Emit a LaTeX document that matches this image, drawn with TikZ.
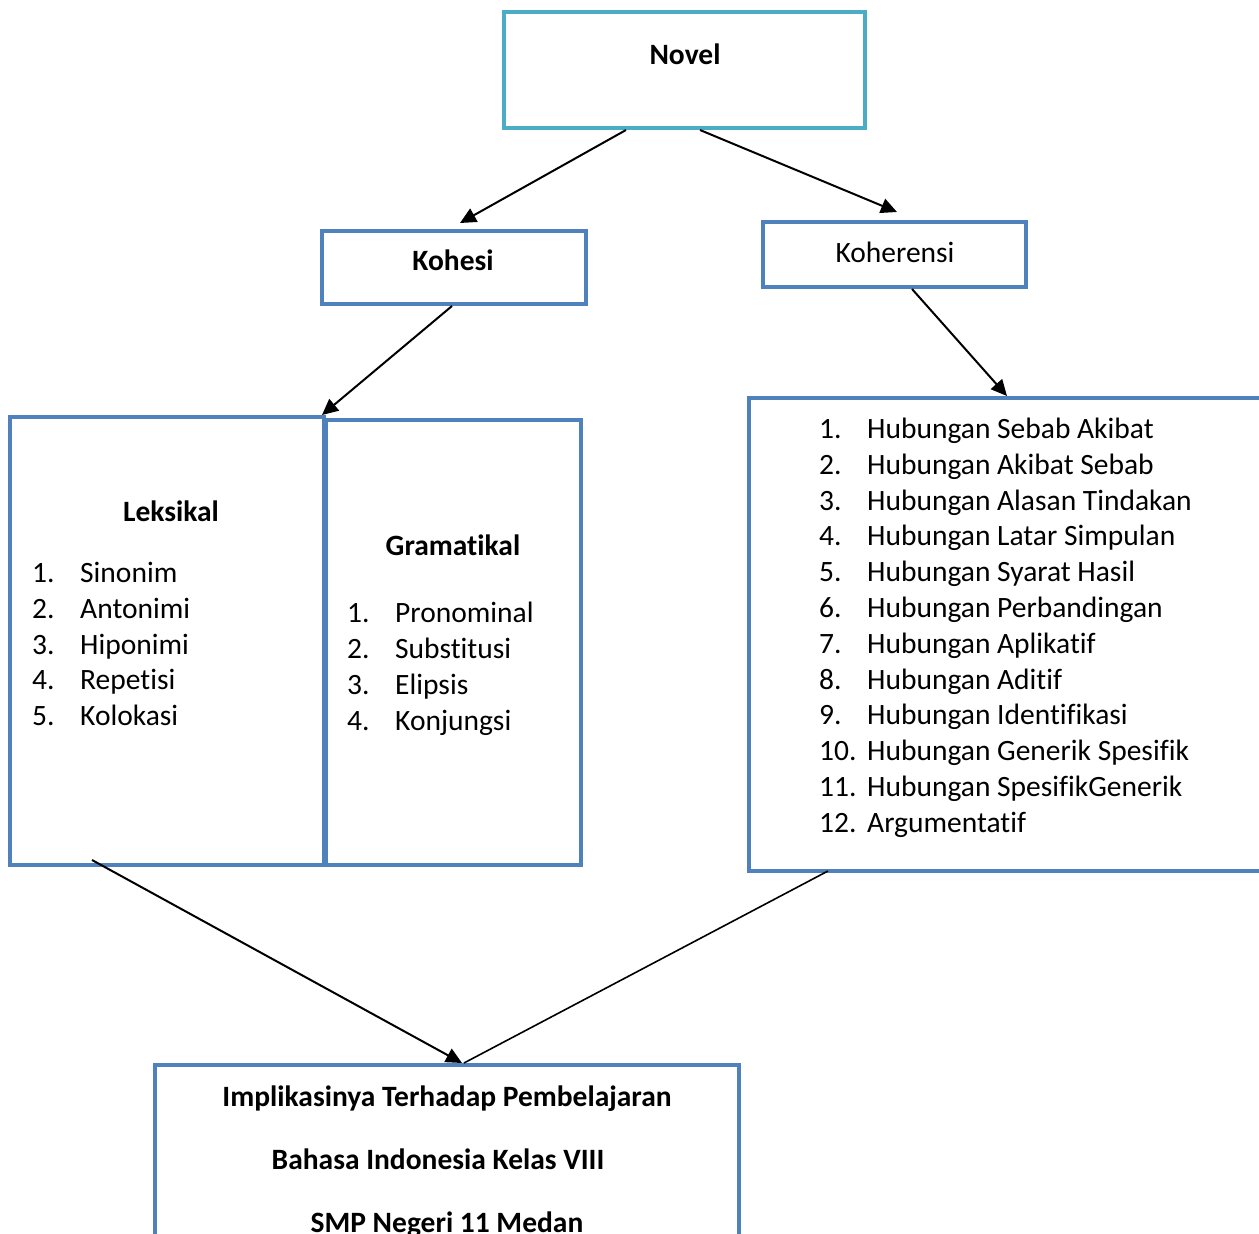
\documentclass[tikz,border=0pt]{standalone}
\usepackage{fontspec}
\setmainfont{Carlito}[RawFeature={-liga;-clig;-calt;-dlig;-rlig}]
\usetikzlibrary{arrows.meta}
\definecolor{teal}{HTML}{4BACC6}
\definecolor{boxblue}{HTML}{4F81BD}
\newcommand\zk{\kern0pt\relax}
\begin{document}
\begin{tikzpicture}[x=1pt,y=-1pt,
  box/.style={draw=boxblue,line width=4pt,inner sep=0pt,rectangle},
  txt/.style={inner sep=0pt,font=\fontsize{29.5}{36}\selectfont},
  btxt/.style={txt,font=\fontsize{29.5}{36}\selectfont\bfseries,anchor=base},
  itm/.style={txt,anchor=base west},
  conn/.style={line width=2pt,-{Triangle[length=16pt,width=15pt]}},
  thin/.style={line width=1.6pt}]
\useasboundingbox (0,0) rectangle (1259,1234);
\clip (0,0) rectangle (1259,1234);
% boxes
\node[box,draw=teal,minimum width=361pt,minimum height=116pt] (novel) at (684.5,70) {};
\node[box,minimum width=264pt,minimum height=73pt] (kohesi) at (454,267.5) {};
\node[box,minimum width=263pt,minimum height=65pt] (koherensi) at (894.5,254.5) {};
\node[box,minimum width=314pt,minimum height=448pt] (leksikal) at (167,641) {};
\node[box,minimum width=255pt,minimum height=445pt] (gramatikal) at (453.5,642.5) {};
\node[box,minimum width=513pt,minimum height=473pt] (list) at (1005.5,634.5) {};
\node[box,minimum width=584pt,minimum height=175pt] (bottom) at (447,1152.5) {};
% titles
\node[btxt] (tnovel) at (685,64) {Novel};
\node[btxt] (tkohesi) at (453,270) {Kohesi};
\node[txt,anchor=base] (tkoherensi) at (895,262) {Koherensi};
\node[btxt] (tleks) at (171,521) {Leksikal};
\node[btxt] (tgram) at (453,555) {Gramat\zk ikal};
\node[btxt] (tb1) at (447,1106) {Implikasinya Terhadap Pembelajaran};
\node[btxt] (tb2) at (438,1169) {Bahasa Indonesia Kelas VIII};
\node[btxt] (tb3) at (447,1232) {SMP Negeri 11 Medan};
% lists
\foreach \t [count=\i] in {Sinonim,Antonimi,Hiponimi,Repetisi,Kolokasi}{
  \node[itm] (ln\i) at ({32},{582.5+35.8*(\i-1)}) {\i.};
  \node[itm] (lt\i) at ({80},{582.5+35.8*(\i-1)}) {\t};
}
\foreach \t [count=\i] in {Pronominal,Subst\zk itusi,Elipsis,Konjungsi}{
  \node[itm] (gn\i) at ({347},{622.5+36*(\i-1)}) {\i.};
  \node[itm] (gt\i) at ({395},{622.5+36*(\i-1)}) {\t};
}
\foreach \t [count=\i] in {Hubungan Sebab Akibat,Hubungan Akibat Sebab,Hubungan Alasan Tindakan,Hubungan Latar Simpulan,Hubungan Syarat Hasil,Hubungan Perbandingan,Hubungan Aplikat\zk if,Hubungan Adit\zk if,Hubungan Ident\zk if\zk ikasi,Hubungan Generik Spesif\zk ik,Hubungan Spesif\zk ikGenerik,Argumentat\zk if}{
  \node[itm] (rn\i) at ({819},{438.5+35.8*(\i-1)}) {\i.};
  \node[itm] (rt\i) at ({867},{438.5+35.8*(\i-1)}) {\t};
}
% connectors
\draw[conn] ([xshift=-58.5pt]novel.south) -- ([xshift=6pt,yshift=6pt]kohesi.north);
\draw[conn] ([xshift=15.5pt]novel.south) -- ([xshift=2.5pt,yshift=8pt]koherensi.north);
\draw[conn] ([xshift=-2pt]kohesi.south) -- ([xshift=-4pt]leksikal.north east);
\draw[conn] ([xshift=17.5pt]koherensi.south) -- ([xshift=1.5pt]list.north);
\draw[conn] ([xshift=-75pt,yshift=7pt]leksikal.south) -- ([xshift=15pt]bottom.north);
\draw[thin] ([xshift=-177.5pt,yshift=2pt]list.south) -- ([xshift=17pt]bottom.north);
\end{tikzpicture}
\end{document}
